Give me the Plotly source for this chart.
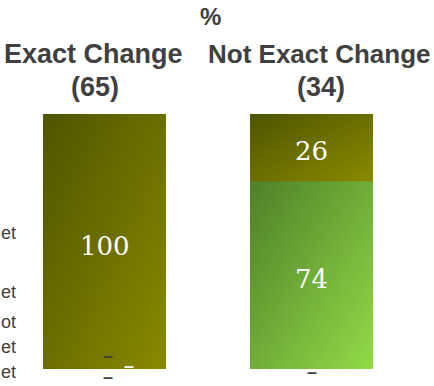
import plotly.graph_objects as go

# ---- data ----
categories = ["Exact Change", "Not Exact Change"]
counts = [65, 34]
olive_vals = [100, 26]   # top series
green_vals = [0, 74]     # bottom series
row_labels = ["et", "et", "ot", "et", "et"]   # visible (clipped) row labels
title_text = "%"

# ---- geometry helpers (pixel -> axis/paper) ----
W, H = 434, 386
PLOT_TOP, PLOT_BOT = 114, 369
X0_PX, UNIT_PX = 104.5, 207.0
BAR_W = 123 / UNIT_PX

def xp(px):
    return (px - X0_PX) / UNIT_PX

def yp(py):
    return (PLOT_BOT - py) / (PLOT_BOT - PLOT_TOP)

OLIVE = ((78, 85, 0), (137, 137, 0))
GREEN = ((78, 128, 40), (146, 218, 72))

fig = go.Figure()


def lerp(c0, c1, t):
    return "rgb(%d,%d,%d)" % tuple(round(a + (b - a) * t) for a, b in zip(c0, c1))


def add_segment(xc, y0, y1, cols, n=30):
    # diagonal (top-left -> bottom-right) gradient built from thin vertical strips
    left = xc - BAR_W / 2
    sw = BAR_W / n
    yb = y0 - 0.4 if y0 > 0 else y0   # tiny overlap to hide the seam between stacked segments
    for k in range(n):
        u = (k + 0.5) / n
        xa = left + k * sw
        xb = min(left + (k + 1) * sw + sw * 0.35, left + BAR_W)
        xs = [xa, xb, xb, xa, xa]
        ys = [yb, yb, y1, y1, yb]
        top_c = lerp(cols[0], cols[1], u / 2)
        bot_c = lerp(cols[0], cols[1], (u + 1) / 2)
        fig.add_trace(go.Scatter(
            x=xs, y=ys, mode="lines", line=dict(width=0), fill="toself",
            fillgradient=dict(type="vertical", colorscale=[[0, bot_c], [1, top_c]]),
            hoverinfo="skip", showlegend=False))


for i, cat in enumerate(categories):
    base = 0
    for vals, cols in ((green_vals, GREEN), (olive_vals, OLIVE)):
        v = vals[i]
        if v > 0:
            add_segment(i, base, base + v, cols)
            fig.add_annotation(x=i, y=base + v / 2, xref="x", yref="y", text=str(v),
                               showarrow=False, yshift=-4,
                               font=dict(family="DejaVu Serif", size=26, color="white"))
        base += v

# column headers
header_x = [93, 319]
header_size = [27, 26]
for i, cat in enumerate(categories):
    f = dict(family="Liberation Sans, Arial", size=header_size[i], color="#404040")
    fig.add_annotation(x=xp(header_x[i]), xref="x", y=yp(54), yref="paper",
                       text="<b>%s</b>" % cat, showarrow=False, yanchor="middle", font=f)
    fig.add_annotation(x=xp(header_x[i] + 2), xref="x", y=yp(87), yref="paper",
                       text="<b>(%d)</b>" % counts[i], showarrow=False, yanchor="middle",
                       font=dict(f, size=27))
fig.add_annotation(x=xp(210), xref="x", y=yp(16), yref="paper", text="<b>%s</b>" % title_text,
                   showarrow=False, yanchor="middle",
                   font=dict(family="Liberation Sans, Arial", size=24, color="#404040"))

# row labels (clipped at left edge in the original)
row_y = [233, 292, 322, 347, 372]
for lab, py in zip(row_labels, row_y):
    fig.add_annotation(x=xp(0), xref="x", y=yp(py), yref="paper", text=lab,
                       showarrow=False, xanchor="left", yanchor="middle", borderpad=0,
                       font=dict(family="Liberation Sans, Arial", size=18, color="#404040"))

# zero-value markers
dashes = [(108, 356, "#404040"), (129, 366, "white"), (108, 377, "#404040"), (312, 372, "#404040")]
for px, py, c in dashes:
    fig.add_annotation(x=xp(px), xref="x", y=yp(py), yref="paper", text="<b>–</b>",
                       showarrow=False, yanchor="middle",
                       font=dict(family="Liberation Sans", size=18, color=c))

fig.update_layout(
    width=W, height=H,
    margin=dict(l=0, r=0, t=PLOT_TOP, b=H - PLOT_BOT, pad=0),
    paper_bgcolor="white", plot_bgcolor="white",
    xaxis=dict(range=[xp(0), xp(W)], visible=False, fixedrange=True),
    yaxis=dict(range=[0, 100], visible=False, fixedrange=True),
    showlegend=False,
)

fig.write_html("out.html")
